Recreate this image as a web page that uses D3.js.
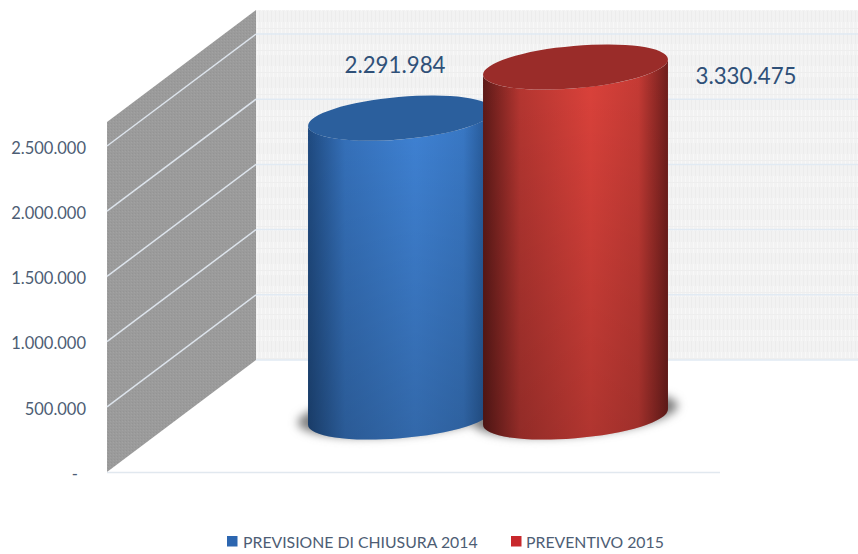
<!DOCTYPE html>
<html>
<head>
<meta charset="utf-8">
<script src="https://cdn.jsdelivr.net/npm/d3@7"></script>
<style>
    html, body { margin: 0; padding: 0; background: #fff; }
    svg { display: block; }
    text { font-family: Lato, "Open Sans", sans-serif; }
</style>
</head>
<body>
<div id="chart"></div>
<script>
var categories = ["PREVISIONE DI CHIUSURA 2014", "PREVENTIVO 2015"];
var values = [2291984, 3330475];
var tickValues = [0, 500000, 1000000, 1500000, 2000000, 2500000];
var axisMax = 2684000; //top of the walls, the red cylinder gets cut off here
var sideColors = [["#1f4a80", "#3f82d4", "#21508a"], ["#5e1a18", "#dc423b", "#6f1e1c"]];
var topColors = ["#2b5f9d", "#9a2c29"];
var legendColors = ["#2c66b0", "#c8282c"];

var width = 858, height = 554;

//walls, floor
var frontX = 107, backX = 256;
var frontBase = 472, backBase = 360;
var wallHeight = 350;

var svg = d3.select("#chart").append("svg").attr("width", width).attr("height", height);
var defs = svg.append("defs");

var h = d3.scaleLinear().domain([0, axisMax]).range([0, wallHeight]).clamp(true);
var yFront = d3.scaleLinear().domain([0, axisMax]).range([frontBase, frontBase - wallHeight]);
var x = d3.scaleBand().domain(categories).range([313, 663]);

var nf = d3.formatLocale({decimal: ",", thousands: ".", grouping: [3], currency: ["", ""]}).format(",d");

//wall textures
var pLeft = defs.append("pattern").attr("id", "leftTex").attr("width", 3).attr("height", 3).attr("patternUnits", "userSpaceOnUse");
pLeft.append("rect").attr("width", 3).attr("height", 3).attr("fill", "#9b9b9b");
pLeft.append("rect").attr("x", 0).attr("y", 0).attr("width", 1).attr("height", 1).attr("fill", "#949494");
pLeft.append("rect").attr("x", 2).attr("y", 1).attr("width", 1).attr("height", 1).attr("fill", "#a2a2a2");

var pBack = defs.append("pattern").attr("id", "backTex").attr("width", 4).attr("height", 22).attr("patternUnits", "userSpaceOnUse");
pBack.append("rect").attr("width", 4).attr("height", 22).attr("fill", "#f2f2f2");
pBack.append("rect").attr("x", 1).attr("y", 0).attr("width", 1).attr("height", 11).attr("fill", "#f8f8f8");
pBack.append("rect").attr("x", 3).attr("y", 11).attr("width", 1).attr("height", 11).attr("fill", "#ececec");
pBack.append("rect").attr("x", 0).attr("y", 6).attr("width", 4).attr("height", 1).attr("fill", "#eeeeee");

svg.append("rect")
    .attr("x", backX).attr("y", backBase - wallHeight)
    .attr("width", width - backX).attr("height", wallHeight)
    .attr("fill", "url(#backTex)");

svg.append("path")
    .attr("d", d3.line()([[frontX, frontBase - wallHeight], [backX, backBase - wallHeight], [backX, backBase], [frontX, frontBase]]) + "Z")
    .attr("fill", "url(#leftTex)");

//gridlines, first on the back wall then on the side wall
svg.selectAll(".gridBack").data(tickValues).enter().append("line")
    .attr("class", "gridBack")
    .attr("x1", backX).attr("x2", width)
    .attr("y1", function(d){ return backBase - h(d); })
    .attr("y2", function(d){ return backBase - h(d); })
    .attr("stroke", "#e1eaf3").attr("stroke-width", 1.5);

svg.selectAll(".gridSide").data(tickValues.slice(1)).enter().append("line")
    .attr("class", "gridSide")
    .attr("x1", frontX).attr("x2", backX)
    .attr("y1", function(d){ return frontBase - h(d); })
    .attr("y2", function(d){ return backBase - h(d); })
    .attr("stroke", "#dde4ec").attr("stroke-width", 1.5);

svg.append("line")
    .attr("x1", frontX).attr("x2", 720)
    .attr("y1", frontBase + 0.5).attr("y2", frontBase + 0.5)
    .attr("stroke", "#e1e8ef").attr("stroke-width", 1.5);

//axis
var axis = d3.axisLeft(yFront)
    .tickValues(tickValues)
    .tickSize(0)
    .tickPadding(21)
    .tickFormat(function(d){ return d == 0 ? "-" : nf(d); });

var axisG = svg.append("g").attr("transform", "translate(" + frontX + ",0)").call(axis);
axisG.select(".domain").remove();
axisG.selectAll("text")
    .attr("fill", "#4d5d74")
    .style("font-size", "16.5px")
    .style("font-family", "Lato, 'Open Sans', sans-serif")
    .attr("dy", "0.44em");
axisG.selectAll(".tick").filter(function(d){ return d == 0; }).select("text").attr("dx", -8);

//cylinders
var rx = 92.8, ry = 21.2, tilt = -5;
var baseY = 417;
var rad = tilt * Math.PI / 180;
var edgeDx = Math.sqrt(rx*rx*Math.cos(rad)*Math.cos(rad) + ry*ry*Math.sin(rad)*Math.sin(rad));
var edgeDy = (rx*rx - ry*ry) * Math.sin(rad) * Math.cos(rad) / edgeDx;

defs.append("filter").attr("id", "shadowBlur")
    .attr("x", "-20%").attr("y", "-50%").attr("width", "140%").attr("height", "200%")
    .append("feGaussianBlur").attr("stdDeviation", 5);

categories.forEach(function(c, i){
    var grad = defs.append("linearGradient").attr("id", "side" + i);
    grad.append("stop").attr("offset", "0%").attr("stop-color", sideColors[i][0]);
    grad.append("stop").attr("offset", "20%").attr("stop-color", d3.interpolateRgb(sideColors[i][0], sideColors[i][1])(0.7));
    grad.append("stop").attr("offset", "58%").attr("stop-color", sideColors[i][1]);
    grad.append("stop").attr("offset", "84%").attr("stop-color", d3.interpolateRgb(sideColors[i][2], sideColors[i][1])(0.8));
    grad.append("stop").attr("offset", "100%").attr("stop-color", sideColors[i][2]);
});

var fade = defs.append("linearGradient").attr("id", "fadeDown").attr("x1", 0).attr("x2", 0).attr("y1", 0).attr("y2", 1);
fade.append("stop").attr("offset", "0%").attr("stop-color", "#000").attr("stop-opacity", 0);
fade.append("stop").attr("offset", "100%").attr("stop-color", "#000").attr("stop-opacity", 0.2);

function cx(d){ return x(d.name) + x.bandwidth()/2; }
function sidePath(d){
    var c = cx(d), top = baseY - h(d.value);
    return "M" + (c - edgeDx) + "," + (top - edgeDy)
        + "L" + (c - edgeDx) + "," + (baseY - edgeDy)
        + "A" + rx + "," + ry + " " + tilt + " 0 0 " + (c + edgeDx) + "," + (baseY + edgeDy)
        + "L" + (c + edgeDx) + "," + (top + edgeDy)
        + "A" + rx + "," + ry + " " + tilt + " 0 1 " + (c - edgeDx) + "," + (top - edgeDy) + "Z";
}

var data = categories.map(function(c, i){ return {name: c, value: values[i], i: i}; });

svg.selectAll(".shadow").data(data).enter().append("ellipse")
    .attr("class", "shadow")
    .attr("cx", cx).attr("cy", baseY - 3)
    .attr("rx", rx + 10).attr("ry", ry)
    .attr("transform", function(d){ return "rotate(" + tilt + "," + cx(d) + "," + baseY + ")"; })
    .attr("fill", "#7d7d7d")
    .attr("filter", "url(#shadowBlur)");

var cyl = svg.selectAll(".cylinder").data(data).enter().append("g").attr("class", "cylinder");
cyl.append("path").attr("d", sidePath).attr("fill", function(d){ return "url(#side" + d.i + ")"; });
cyl.append("path").attr("d", sidePath).attr("fill", "url(#fadeDown)");
cyl.append("ellipse")
    .attr("cx", cx)
    .attr("cy", function(d){ return baseY - h(d.value); })
    .attr("rx", rx).attr("ry", ry)
    .attr("transform", function(d){ return "rotate(" + tilt + "," + cx(d) + "," + (baseY - h(d.value)) + ")"; })
    .attr("fill", function(d){ return topColors[d.i]; });

//data labels
var labelDx = [-5.5, 170.5];
var labelY = [73, 84];
svg.selectAll(".valueLabel").data(data).enter().append("text")
    .attr("class", "valueLabel")
    .attr("x", function(d){ return cx(d) + labelDx[d.i]; })
    .attr("y", function(d){ return labelY[d.i]; })
    .attr("text-anchor", "middle")
    .attr("fill", "#2f5078")
    .style("font-size", "22.3px")
    .text(function(d){ return nf(d.value); });

//legend
var legendX = [227, 511];
var legend = svg.selectAll(".legend").data(data).enter().append("g").attr("class", "legend")
    .attr("transform", function(d){ return "translate(" + legendX[d.i] + ",536)"; });
legend.append("rect").attr("width", 10.5).attr("height", 10.5).attr("fill", function(d){ return legendColors[d.i]; });
legend.append("text")
    .attr("x", function(d){ return d.i == 0 ? 16 : 15; })
    .attr("y", 11.5)
    .attr("fill", "#4d5d74")
    .style("font-size", "15.8px")
    .text(function(d){ return d.name; });
</script>
</body>
</html>
